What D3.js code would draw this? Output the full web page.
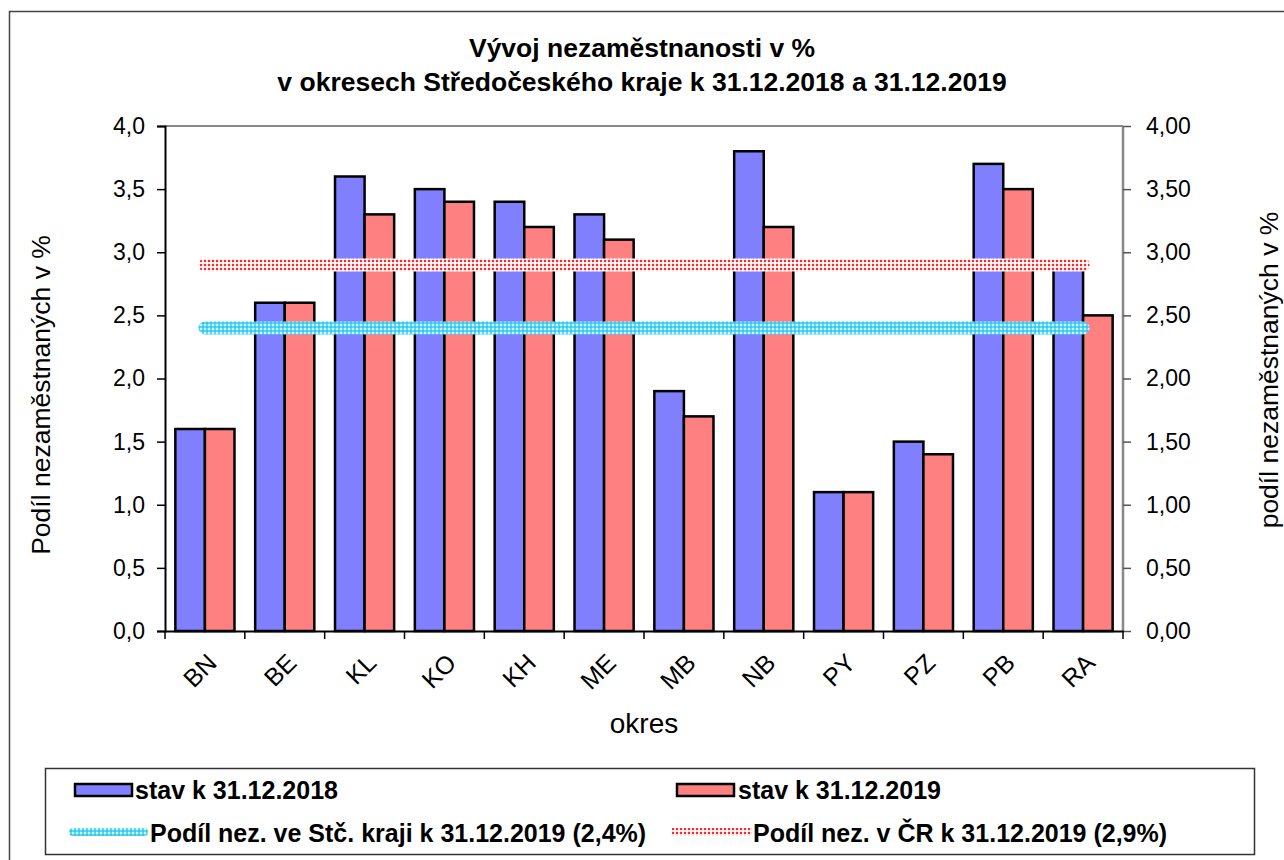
<!DOCTYPE html>
<html><head><meta charset="utf-8">
<script src="https://cdn.jsdelivr.net/npm/d3@7/dist/d3.min.js"></script>
<style>body{margin:0;background:#fff;font-family:"Liberation Sans",Arial,sans-serif}</style>
</head><body><svg id="c" width="1284" height="860"></svg>
<script>
const categories = ["BN","BE","KL","KO","KH","ME","MB","NB","PY","PZ","PB","RA"];
const values2018 = [1.6,2.6,3.6,3.5,3.4,3.3,1.9,3.8,1.1,1.5,3.7,2.9];
const values2019 = [1.6,2.6,3.3,3.4,3.2,3.1,1.7,3.2,1.1,1.4,3.5,2.5];
const regionAvg = 2.4;
const czAvg = 2.9;
const leftTicks = [0,0.5,1,1.5,2,2.5,3,3.5,4];
const seriesNames = ["stav k 31.12.2018","stav k 31.12.2019","Podíl nez. ve Stč. kraji k 31.12.2019 (2,4%)","Podíl nez. v ČR k 31.12.2019 (2,9%)"];

const svg = d3.select("#c");
const font = '"Liberation Sans",Arial,sans-serif';
const L=165,R=1123,T=126,B=631;
const defs = svg.append("defs");
const pc = defs.append("pattern").attr("id","pcyan").attr("width",4).attr("height",4).attr("patternUnits","userSpaceOnUse");
pc.append("rect").attr("width",4).attr("height",4).attr("fill","#5cd8f5");
pc.append("rect").attr("x",0).attr("y",0).attr("width",2).attr("height",2).attr("fill","#d0f6ff");
pc.append("rect").attr("x",2).attr("y",2).attr("width",2).attr("height",2).attr("fill","#38c6ee");
const pr = defs.append("pattern").attr("id","pred").attr("width",4).attr("height",4).attr("patternUnits","userSpaceOnUse");
pr.append("rect").attr("width",4).attr("height",4).attr("fill","#ffe0e0");
pr.append("rect").attr("x",0).attr("y",0).attr("width",2).attr("height",2).attr("fill","#f03030");
pr.append("rect").attr("x",2).attr("y",2).attr("width",2).attr("height",2).attr("fill","#ffffff");

// outer frame
svg.append("rect").attr("x",9.5).attr("y",11.5).attr("width",1290).attr("height",870).attr("fill","none").attr("stroke","#444").attr("stroke-width",1.5);

const x = d3.scaleBand().domain(categories).range([L,R]).paddingInner(0).paddingOuter(0);
const x1 = d3.scaleBand().domain([0,1]).range([0,x.bandwidth()]).paddingOuter(0.35).paddingInner(0);
const y = d3.scaleLinear().domain([0,4]).range([B,T]);

// plot border top/right
svg.append("line").attr("x1",L).attr("x2",R).attr("y1",T).attr("y2",T).attr("stroke","#888").attr("stroke-width",2);
svg.append("line").attr("x1",R).attr("x2",R).attr("y1",T).attr("y2",B).attr("stroke","#888").attr("stroke-width",2.5);

// bars
const g = svg.append("g");
categories.forEach((c,i)=>{
  [[values2018[i],"#8080ff",0],[values2019[i],"#ff8080",1]].forEach(([v,col,k])=>{
    g.append("rect").attr("x",x(c)+x1(k)).attr("y",y(v)).attr("width",x1.bandwidth()).attr("height",y(0)-y(v))
     .attr("fill",col).attr("stroke","#000").attr("stroke-width",2.5);
  });
});

// average lines
const x0 = x(categories[0])+x.bandwidth()/2, xe = x(categories[categories.length-1])+x.bandwidth()/2;
svg.append("line").attr("x1",x0).attr("x2",xe).attr("y1",y(czAvg)).attr("y2",y(czAvg)).attr("stroke","url(#pred)").attr("stroke-width",13).attr("stroke-linecap","round");
svg.append("line").attr("x1",x0).attr("x2",xe).attr("y1",y(regionAvg)).attr("y2",y(regionAvg)).attr("stroke","url(#pcyan)").attr("stroke-width",13).attr("stroke-linecap","round");

// axes
const fmt1 = d3.format(".1f"), fmt2 = d3.format(".2f");
const la = svg.append("g").attr("transform",`translate(${L},0)`)
  .call(d3.axisLeft(y).tickValues(leftTicks).tickSize(8).tickPadding(12).tickFormat(d=>fmt1(d).replace(".",",")));
la.select(".domain").attr("stroke","#000").attr("stroke-width",2);
la.selectAll(".tick line").attr("stroke","#000").attr("stroke-width",1.5);
la.selectAll("text").attr("font-family",font).attr("font-size",23).attr("fill","#000");

const ra = svg.append("g").attr("transform",`translate(${R},0)`)
  .call(d3.axisRight(y).tickValues(leftTicks).tickSize(8).tickPadding(15).tickFormat(d=>fmt2(d).replace(".",",")));
ra.select(".domain").remove();
ra.selectAll(".tick line").attr("stroke","#555").attr("stroke-width",1.5);
ra.selectAll("text").attr("font-family",font).attr("font-size",23).attr("fill","#000");

const ba = svg.append("g").attr("transform",`translate(0,${B})`)
  .call(d3.axisBottom(x).tickSize(0).tickFormat(""));
ba.select(".domain").attr("stroke","#000").attr("stroke-width",2);
categories.concat(["_end"]).forEach((c,i)=>{
  const xx = i<categories.length? x(c) : R;
  ba.append("line").attr("x1",xx).attr("x2",xx).attr("y1",0).attr("y2",8).attr("stroke","#000").attr("stroke-width",1.5);
});
categories.forEach(c=>{
  const cx = x(c)+x.bandwidth()/2;
  ba.append("text").attr("transform",`translate(${cx+1},${21}) rotate(-45)`).attr("text-anchor","end").attr("dy","0.7em")
    .attr("font-family",font).attr("font-size",25).attr("fill","#000").text(c);
});

// titles
const tt = svg.append("text").attr("x",642).attr("text-anchor","middle").attr("font-family",font).attr("font-weight","bold").attr("font-size",26.5);
tt.append("tspan").attr("x",642).attr("y",57).text("Vývoj nezaměstnanosti v %");
tt.append("tspan").attr("x",642).attr("y",91).text("v okresech Středočeského kraje k 31.12.2018 a 31.12.2019");
svg.append("text").attr("transform","translate(50,395) rotate(-90)").attr("text-anchor","middle").attr("font-family",font).attr("font-size",26.5).text("Podíl nezaměstnaných v %");
svg.append("text").attr("transform","translate(1278,370) rotate(-90)").attr("text-anchor","middle").attr("font-family",font).attr("font-size",26.5).text("podíl nezaměstnaných v %");
svg.append("text").attr("x",644).attr("y",733).attr("text-anchor","middle").attr("font-family",font).attr("font-size",28).text("okres");

// legend
svg.append("rect").attr("x",45.5).attr("y",768.5).attr("width",1209).attr("height",86).attr("fill","#fff").attr("stroke","#333").attr("stroke-width",1.5);
const lg = svg.append("g").attr("font-family",font).attr("font-weight","bold").attr("font-size",25);
lg.append("rect").attr("x",75).attr("y",784).attr("width",57).attr("height",12).attr("fill","#8080ff").attr("stroke","#000").attr("stroke-width",2.5);
lg.append("text").attr("x",135).attr("y",799).text(seriesNames[0]);
lg.append("rect").attr("x",677).attr("y",784).attr("width",57).attr("height",12).attr("fill","#ff8080").attr("stroke","#000").attr("stroke-width",2.5);
lg.append("text").attr("x",738).attr("y",799).text(seriesNames[1]);
lg.append("line").attr("x1",73).attr("x2",144).attr("y1",832).attr("y2",832).attr("stroke","url(#pcyan)").attr("stroke-width",8).attr("stroke-linecap","round");
lg.append("text").attr("x",150).attr("y",842).text(seriesNames[2]);
lg.append("line").attr("x1",672).attr("x2",752).attr("y1",832).attr("y2",832).attr("stroke","url(#pred)").attr("stroke-width",8);
lg.append("text").attr("x",753).attr("y",842).text(seriesNames[3]);
</script></body></html>
